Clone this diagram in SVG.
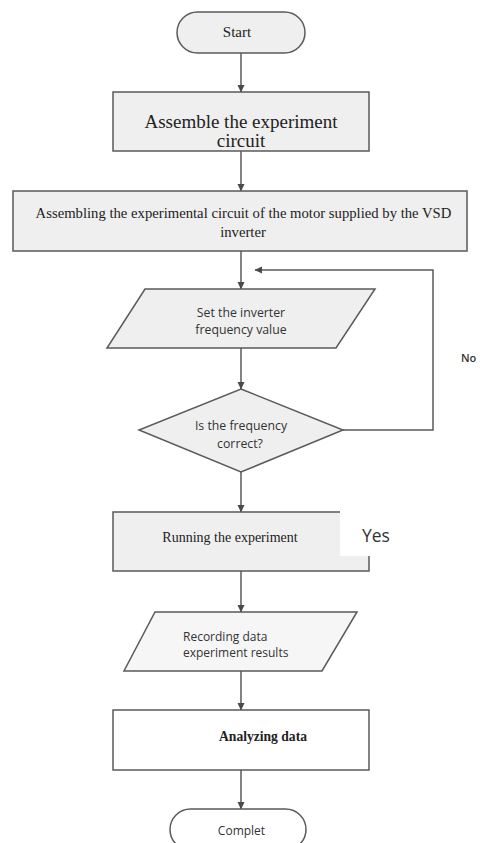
<svg xmlns="http://www.w3.org/2000/svg" width="480" height="843" viewBox="0 0 480 843">
<defs>
<marker id="arr" markerWidth="8" markerHeight="8" refX="7" refY="4" orient="auto" markerUnits="userSpaceOnUse">
<path d="M0,0.5 L7.5,4 L0,7.5 Z" fill="#4a4a4a"/>
</marker>
</defs>
<style>
.shape{fill:#efefef;stroke:#5a5a5a;stroke-width:1.5}
.white{fill:#ffffff;stroke:#5a5a5a;stroke-width:1.5}
.conn{fill:none;stroke:#5a5a5a;stroke-width:1.5;marker-end:url(#arr)}
.serif{font-family:"Liberation Serif","Times New Roman",serif;fill:#222}
.sans{font-family:"Open Sans","Liberation Sans",sans-serif;fill:#333}
</style>
<rect width="480" height="843" fill="#ffffff"/>
<g id="connectors">
<line class="conn" x1="241" y1="53" x2="241" y2="92"/>
<line class="conn" x1="241" y1="151" x2="241" y2="191"/>
<line class="conn" x1="241" y1="251" x2="241" y2="289"/>
<line class="conn" x1="241" y1="348" x2="241" y2="389"/>
<line class="conn" x1="241" y1="472" x2="241" y2="512"/>
<polyline class="conn" points="343,430 433,430 433,270 255,270"/>
<line class="conn" x1="241" y1="571" x2="241" y2="612"/>
<line class="conn" x1="241" y1="671" x2="241" y2="710"/>
<line class="conn" x1="241" y1="770" x2="241" y2="809"/>
</g>
<g id="start">
<rect class="shape" x="177" y="12" width="128" height="41" rx="20.5" ry="20.5"/>
<text class="serif" x="237" y="37" font-size="15" text-anchor="middle">Start</text>
</g>
<g id="assemble">
<rect class="shape" x="113" y="92" width="256" height="59"/>
<text class="serif" x="241" y="128" font-size="19" text-anchor="middle">Assemble the experiment</text>
<text class="serif" x="241" y="147" font-size="19" text-anchor="middle">circuit</text>
</g>
<g id="assembling-vsd">
<rect class="shape" x="13" y="191" width="454" height="60"/>
<text class="serif" x="243.5" y="218" font-size="14.7" text-anchor="middle">Assembling the experimental circuit of the motor supplied by the VSD</text>
<text class="serif" x="243" y="237" font-size="14.7" text-anchor="middle">inverter</text>
</g>
<g id="set-frequency">
<polygon class="shape" points="145,289 375,289 336,348 107,348"/>
<text class="sans" x="241" y="317" font-size="12.3" text-anchor="middle">Set the inverter</text>
<text class="sans" x="241" y="334" font-size="12.3" text-anchor="middle">frequency value</text>
</g>
<g id="check-frequency">
<polygon class="shape" points="241,389 343,430 241,472 139,430"/>
<text class="sans" x="241" y="430" font-size="12.3" text-anchor="middle">Is the frequency</text>
<text class="sans" x="240" y="448" font-size="12.3" text-anchor="middle">correct?</text>
</g>
<g id="no-label">
<text class="sans" x="461" y="362" font-size="11" font-weight="600" fill="#222">No</text>
</g>
<g id="running">
<rect class="shape" x="113" y="512" width="256" height="59"/>
<text class="serif" x="230" y="542" font-size="14" text-anchor="middle">Running the experiment</text>
</g>
<g id="yes-label">
<rect x="340" y="510" width="40" height="46" fill="#ffffff"/>
<text class="sans" x="362" y="542" font-size="17.5" fill="#000">Yes</text>
</g>
<g id="recording">
<polygon class="shape" points="155,612 357,612 322,671 124,671" style="fill:#f6f6f6"/>
<text class="sans" x="183" y="641" font-size="12">Recording data</text>
<text class="sans" x="183" y="657" font-size="12">experiment results</text>
</g>
<g id="analyzing">
<rect class="white" x="113" y="710" width="256" height="60"/>
<text class="serif" x="263" y="741" font-size="13.6" font-weight="bold" text-anchor="middle">Analyzing data</text>
</g>
<g id="complete">
<rect class="white" x="170" y="809" width="136" height="41" rx="20.5" ry="20.5"/>
<text class="sans" x="241.5" y="835" font-size="12" text-anchor="middle">Complet</text>
</g>
</svg>
